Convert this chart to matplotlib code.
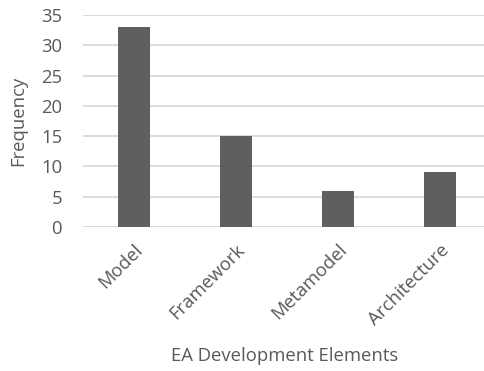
import matplotlib
matplotlib.use("Agg")
import matplotlib.pyplot as plt

categories = ["Model", "Framework", "Metamodel", "Architecture"]
values = [33, 15, 6, 9]
yticks = [0, 5, 10, 15, 20, 25, 30, 35]

plt.rcParams['font.family'] = ['Open Sans', 'DejaVu Sans']
text_color = "#595959"

fig = plt.figure(figsize=(4.85, 3.71), dpi=100)
W, H = 485, 371
left, right, bottom, top = 83, 491, 371 - 227, 371 - 15
ax = fig.add_axes([left / W, bottom / H, (right - left) / W, (top - bottom) / H])

x = range(len(categories))
ax.bar(x, values, width=0.314, color="#5f5f5f", zorder=3)
ax.set_xlim(-0.5, len(categories) - 0.5)
ax.set_ylim(0, 35)
ax.set_yticks(yticks)
ax.yaxis.grid(True, color="#d9d9d9", linewidth=1.3, zorder=0)
for s in ax.spines.values():
    s.set_visible(False)
ax.axhline(0, color="#d9d9d9", linewidth=1.3, zorder=2)
ax.tick_params(axis="both", length=0, colors=text_color, labelsize=13.3)
ax.tick_params(axis="y", pad=15)
ax.tick_params(axis="x", pad=10)
ax.set_xticks(list(x))
ax.set_xticklabels(categories, rotation=45, ha="right", va="top", rotation_mode="anchor")
ax.set_ylabel("Frequency", color=text_color, fontsize=13.3)
ax.set_xlabel("EA Development Elements", color=text_color, fontsize=13.3)
ax.xaxis.set_label_coords((285 - left) / (right - left), -(347 - 227) / (227 - 15))
ax.yaxis.set_label_coords(-(83 - 27) / (right - left), 0.5)

fig.savefig("out.png", dpi=100)
